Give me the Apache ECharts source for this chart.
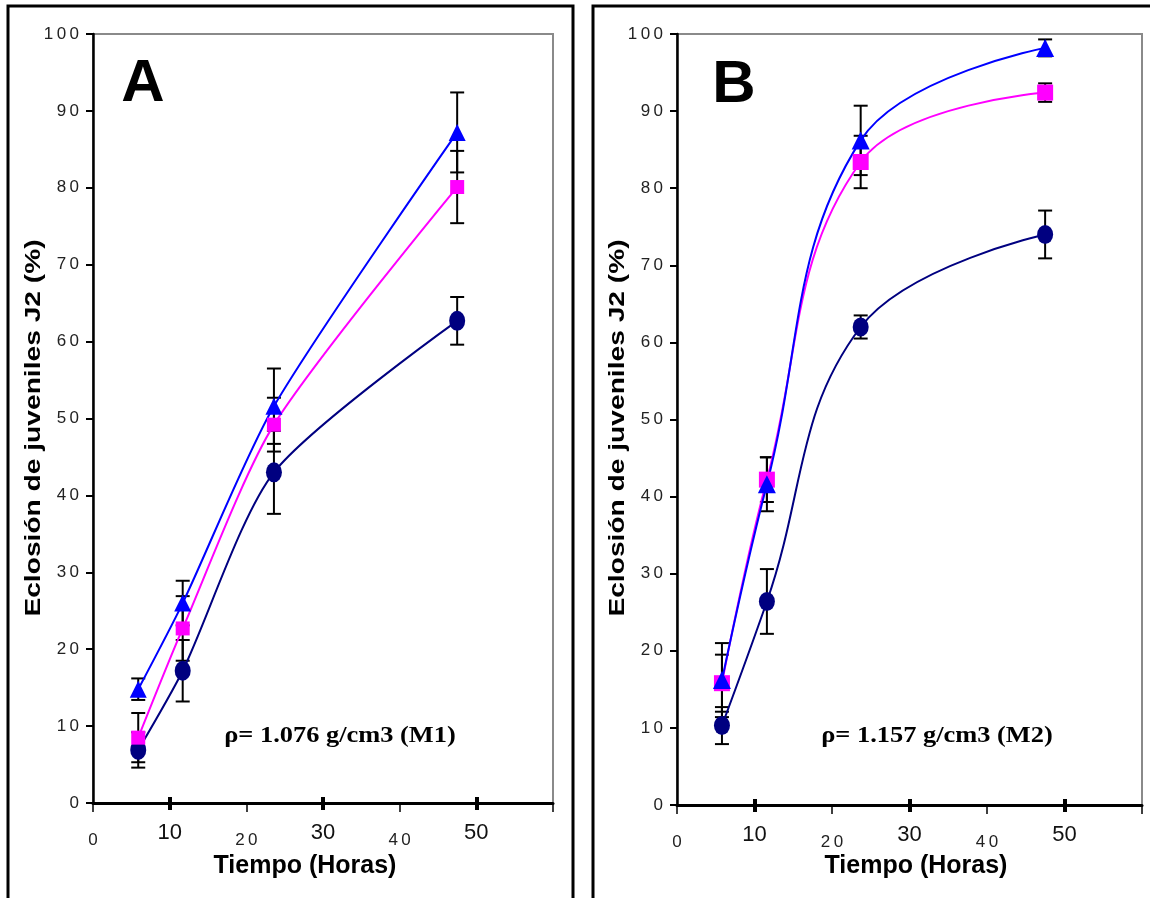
<!DOCTYPE html>
<html><head><meta charset="utf-8">
<script src="https://cdn.jsdelivr.net/npm/echarts@6/dist/echarts.min.js"></script>
<style>html,body{margin:0;padding:0;background:#fff}#c{width:1150px;height:898px}</style>
</head><body><div id="c"></div>
<script>
// ---- data ----
const timesA = [5.9, 11.7, 23.6, 47.5];
const triA = [14.8, 26.0, 51.6, 87.2];
const sqA = [8.5, 22.7, 49.2, 80.1];
const cirA = [6.9, 17.2, 43.0, 62.7];
const triErrA = [1.4, 2.9, 4.9, 5.2];
const sqErrA = [3.2, 4.2, 3.5, 4.7];
const cirErrA = [2.3, 4.0, 5.4, 3.1];

const timesB = [5.8, 11.6, 23.7, 47.5];
const triB = [16.2, 41.6, 86.2, 98.2];
const sqB = [15.8, 42.2, 83.4, 92.4];
const cirB = [10.3, 26.4, 62.0, 74.0];
const triErrB = [4.8, 3.5, 4.5, 1.1];
const sqErrB = [3.7, 2.9, 3.4, 1.2];
const cirErrB = [2.4, 4.2, 1.5, 3.1];

const xBigTicks = [10, 30, 50];
const xSmallTicks = [0, 20, 40];
const yTitle = 'Eclosión de juveniles J2 (%)';
const xTitle = 'Tiempo (Horas)';
const noteA = 'ρ= 1.076 g/cm3 (M1)';
const noteB = 'ρ= 1.157 g/cm3 (M2)';

// ---- helpers ----
const BLUE = '#0000ff', MAG = '#ff00ff', NAVY = '#000080';
const FONT = 'Liberation Sans';
const spaced = v => String(v).split('').join('\u2009');
const zip = (xs, ys) => xs.map((x, i) => [x, ys[i]]);
const errData = (xs, ys, es) => xs.map((x, i) => [x, ys[i] - es[i], ys[i] + es[i]]);

function errRender(params, api) {
  const x = api.value(0), lo = api.value(1), hi = api.value(2);
  const a = api.coord([x, lo]), b = api.coord([x, hi]);
  const hw = 7, st = {stroke: '#000', lineWidth: 2};
  return {type: 'group', children: [
    {type: 'line', shape: {x1: a[0], y1: a[1], x2: b[0], y2: b[1]}, style: st},
    {type: 'line', shape: {x1: a[0] - hw, y1: a[1], x2: a[0] + hw, y2: a[1]}, style: st},
    {type: 'line', shape: {x1: b[0] - hw, y1: b[1], x2: b[0] + hw, y2: b[1]}, style: st}
  ]};
}

function yAxisFor(g) {
  return {gridIndex: g, type: 'value', min: 0, max: 100, interval: 10,
    axisLine: {show: true, lineStyle: {color: '#000', width: 2.5}},
    axisTick: {show: true, length: 7, lineStyle: {color: '#000', width: 2}},
    axisLabel: {margin: 14, fontSize: 17, color: '#222', fontFamily: FONT, formatter: spaced},
    splitLine: {show: false}};
}
function xAxesFor(g) {
  const base = {gridIndex: g, type: 'value', min: 0, max: 60, interval: 10, position: 'bottom', offset: 0, splitLine: {show: false}};
  return [
    Object.assign({}, base, {
      axisLine: {show: true, onZero: false, lineStyle: {color: '#000', width: 3}},
      axisTick: {show: true, customValues: xSmallTicks.concat([60]), length: 9, lineStyle: {color: '#000', width: 1.5}},
      axisLabel: {customValues: xSmallTicks, margin: 29, fontSize: 17, color: '#222', fontFamily: FONT, formatter: spaced}
    }),
    Object.assign({}, base, {
      axisLine: {show: false},
      axisTick: {show: true, customValues: xBigTicks, length: 7, lineStyle: {color: '#000', width: 4}},
      axisLabel: {customValues: xBigTicks, margin: 19, fontSize: 22, color: '#111', fontFamily: FONT}
    }),
    Object.assign({}, base, {
      axisLine: {show: false},
      axisTick: {show: true, inside: true, customValues: xBigTicks, length: 6, lineStyle: {color: '#000', width: 4}},
      axisLabel: {show: false}
    })
  ];
}
function lineSeries(xi, yi, xs, ys, color, symbol, size, smooth) {
  return {type: 'line', xAxisIndex: xi, yAxisIndex: yi, data: zip(xs, ys), smooth: smooth,
    symbol: symbol, symbolSize: size, showSymbol: true,
    itemStyle: {color: color}, lineStyle: {color: color, width: 2}, z: 3, silent: true};
}
function errSeries(xi, yi, xs, ys, es) {
  return {type: 'custom', xAxisIndex: xi, yAxisIndex: yi, renderItem: errRender,
    data: errData(xs, ys, es), encode: {x: 0, y: [1, 2]}, z: 2, silent: true};
}
function txt(x, y, text, size, weight, family, scaleX, rotation) {
  return {type: 'text', x: x, y: y, scaleX: scaleX || 1, rotation: rotation || 0, z: 10,
    style: {text: text, fontSize: size, fontWeight: weight, fontFamily: family, fill: '#000', align: 'center', verticalAlign: 'middle'}};
}

const chart = echarts.init(document.getElementById('c'));
chart.setOption({
  animation: false,
  backgroundColor: '#fff',
  grid: [
    {left: 93, top: 34, width: 460, height: 769, show: true, borderColor: '#8a8a8a', borderWidth: 2},
    {left: 677, top: 34, width: 465, height: 771, show: true, borderColor: '#8a8a8a', borderWidth: 2}
  ],
  xAxis: xAxesFor(0).concat(xAxesFor(1)),
  yAxis: [yAxisFor(0), yAxisFor(1)],
  series: [
    errSeries(0, 0, timesA, triA, triErrA),
    errSeries(0, 0, timesA, sqA, sqErrA),
    errSeries(0, 0, timesA, cirA, cirErrA),
    lineSeries(0, 0, timesA, cirA, NAVY, 'circle', [16, 20], 0.25),
    lineSeries(0, 0, timesA, sqA, MAG, 'rect', 14, 0.25),
    lineSeries(0, 0, timesA, triA, BLUE, 'triangle', 17, 0.25),
    errSeries(3, 1, timesB, triB, triErrB),
    errSeries(3, 1, timesB, sqB, sqErrB),
    errSeries(3, 1, timesB, cirB, cirErrB),
    lineSeries(3, 1, timesB, cirB, NAVY, 'circle', [16, 19], 0.4),
    lineSeries(3, 1, timesB, sqB, MAG, 'rect', 16, 0.4),
    lineSeries(3, 1, timesB, triB, BLUE, 'triangle', 18, 0.4)
  ],
  graphic: [
    {type: 'rect', shape: {x: 8, y: 6, width: 565, height: 1000}, style: {fill: 'none', stroke: '#000', lineWidth: 3}, z: 10},
    {type: 'rect', shape: {x: 593, y: 6, width: 620, height: 1000}, style: {fill: 'none', stroke: '#000', lineWidth: 3}, z: 10},
    txt(143, 84, 'A', 60, 'bold', FONT),
    txt(734, 85, 'B', 60, 'bold', FONT),
    txt(340, 736, noteA, 24, 'bold', 'Liberation Serif', 1.1),
    txt(937, 736, noteB, 24, 'bold', 'Liberation Serif', 1.1),
    txt(305, 866, xTitle, 25, 'bold', FONT),
    txt(916, 866, xTitle, 25, 'bold', FONT),
    txt(34, 428, yTitle, 22, 'bold', FONT, 1.28, Math.PI / 2),
    txt(618, 428, yTitle, 22, 'bold', FONT, 1.28, Math.PI / 2)
  ]
});
</script>
</body></html>
